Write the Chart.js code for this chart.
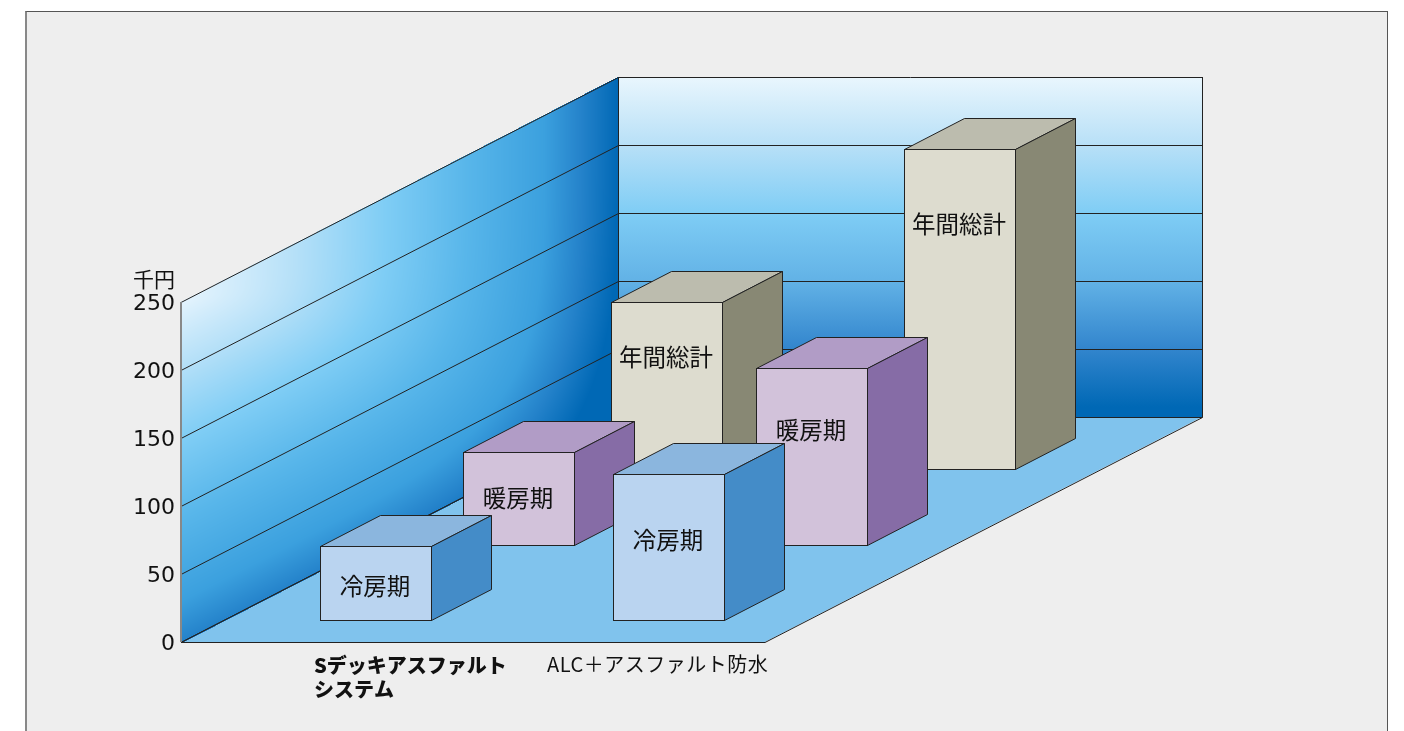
<!DOCTYPE html>
<html lang="ja">
<head>
<meta charset="utf-8">
<title>千円</title>
<script src="https://cdn.jsdelivr.net/npm/chart.js@4"></script>
<style>
  html, body { margin: 0; padding: 0; background: #fff; overflow: hidden; }
  #panel {
    position: absolute; left: 25px; top: 11px; width: 1360px; height: 800px;
    background: #eeeeee; border: 1px solid #555; border-left: 2px solid #888; box-sizing: content-box;
  }
  #chart { position: absolute; left: 0; top: 0; }
</style>
</head>
<body>
<div id="panel"></div>
<canvas id="chart" width="1404" height="731"></canvas>
<script>
const categories = ['Sデッキアスファルト', 'ALC＋アスファルト防水'];
const seriesNames = ['冷房期', '暖房期', '年間総計'];
const coolingValues = [55, 108];
const heatingValues = [69, 131];
const annualValues = [123.5, 236];
const yTicks = [0, 50, 100, 150, 200, 250];
const unitLabel = '千円';

// pseudo 3D geometry, px
const WALL_DX = 437, WALL_DY = -225;
const BAR_DX = 60, BAR_DY = -31;
const ROW_SHIFT_X = [49, 192, 340];
const ROW_SHIFT_Y = [-21, -96, -172];
const LABEL_DROP = [[40, 66], [46, 62], [55, 75]];

const FACE = [
  { front: '#bad4f0', top: '#8bb6de', side: '#448cc8' },
  { front: '#d2c2da', top: '#b19cc6', side: '#866ca6' },
  { front: '#dddccf', top: '#bcbcae', side: '#888874' },
];
const LINE = '#222';
const JP = "'Noto Sans CJK JP', sans-serif";
const BACK_STOPS = [
  [0, 0xe9, 0xf6, 0xfd],
  [0.2, 0xb8, 0xe0, 0xf7],
  [0.4, 0x7f, 0xcd, 0xf5],
  [0.6, 0x62, 0xb2, 0xe6],
  [0.8, 0x32, 0x85, 0xcd],
  [0.97, 0x00, 0x68, 0xb5],
  [1, 0x00, 0x68, 0xb5],
];
const SIDE_STOPS = [
  [0, 0xe3, 0xf3, 0xfd],
  [0.2, 0xb5, 0xe0, 0xf8],
  [0.4, 0x7f, 0xcd, 0xf5],
  [0.6, 0x58, 0xb6, 0xea],
  [0.8, 0x3b, 0xa0, 0xde],
  [0.9, 0x24, 0x82, 0xca],
  [1, 0x00, 0x68, 0xb5],
];

function sideColor(t) {
  let i = 1;
  while (i < SIDE_STOPS.length - 1 && SIDE_STOPS[i][0] < t) i++;
  const a = SIDE_STOPS[i - 1], b = SIDE_STOPS[i];
  const f = Math.min(1, Math.max(0, (t - a[0]) / (b[0] - a[0])));
  return [1, 2, 3].map(k => a[k] + (b[k] - a[k]) * f);
}

// the left wall shading fans out from its top left corner, a plain canvas gradient can't do that
function leftWallImage(wallH) {
  const w = WALL_DX + 1, h = wallH - WALL_DY + 1;
  const off = document.createElement('canvas');
  off.width = w;
  off.height = h;
  const octx = off.getContext('2d');
  const img = octx.createImageData(w, h);
  const slope = WALL_DY / WALL_DX;
  for (let py = 0; py < h; py++) {
    for (let px = 0; px < w; px++) {
      const v = py - (-WALL_DY + slope * px);
      if (v < -1 || v > wallH + 1) continue;
      const tu = Math.pow(px / WALL_DX, 1.2);
      const tv = 0.9 * Math.pow(Math.max(0, v) / wallH, 0.9);
      const t = Math.min(1, Math.pow(tu ** 5 + tv ** 5, 0.2));
      const c = sideColor(t);
      const o = (py * w + px) * 4;
      img.data[o] = c[0];
      img.data[o + 1] = c[1];
      img.data[o + 2] = c[2];
      img.data[o + 3] = 255;
    }
  }
  octx.putImageData(img, 0, 0);
  return off;
}

function poly(ctx, pts, fill, stroke) {
  ctx.beginPath();
  pts.forEach((p, i) => (i ? ctx.lineTo(p[0], p[1]) : ctx.moveTo(p[0], p[1])));
  ctx.closePath();
  if (fill) { ctx.fillStyle = fill; ctx.fill(); }
  if (stroke) { ctx.strokeStyle = stroke; ctx.lineWidth = 1; ctx.stroke(); }
}

const depthPlugin = {
  id: 'depth',
  afterDatasetsUpdate(chart) {
    chart.data.datasets.forEach((ds, i) => {
      chart.getDatasetMeta(i).data.forEach(el => {
        el.x = Math.round(el.x + ROW_SHIFT_X[i]);
        el.y = Math.round(el.y + ROW_SHIFT_Y[i]);
        el.base = Math.round(el.base + ROW_SHIFT_Y[i]);
      });
    });
  },
  beforeDatasetsDraw(chart) {
    const { ctx, chartArea: a, scales: { y } } = chart;
    const L = a.left, R = a.right - 1, T = a.top, B = a.bottom;
    const dx = WALL_DX, dy = WALL_DY;

    // floor
    poly(ctx, [[L, B], [R, B], [R + dx, B + dy], [L + dx, B + dy]], '#80c3ed');

    ctx.drawImage(leftWallImage(B - T), L, T + dy);

    // back wall
    const bg = ctx.createLinearGradient(0, T + dy, 0, B + dy);
    BACK_STOPS.forEach(s => bg.addColorStop(s[0], `rgb(${s[1]},${s[2]},${s[3]})`));
    ctx.fillStyle = bg;
    ctx.fillRect(L + dx, T + dy, R - L, B - T);

    // grid lines follow the walls
    ctx.strokeStyle = LINE;
    ctx.lineWidth = 1;
    y.ticks.forEach(t => {
      const py = Math.round(y.getPixelForValue(t.value)) + 0.5;
      ctx.beginPath();
      ctx.moveTo(L, py);
      ctx.lineTo(L + dx + 0.5, py + dy);
      ctx.lineTo(R + dx + 0.5, py + dy);
      ctx.stroke();
    });

    // outlines
    ctx.beginPath();
    ctx.moveTo(L, B + 0.5); ctx.lineTo(R, B + 0.5); ctx.lineTo(R + dx + 0.5, B + dy + 0.5); ctx.lineTo(R + dx + 0.5, T + dy);
    ctx.moveTo(L, B + 0.5); ctx.lineTo(L + dx + 0.5, B + dy + 0.5);
    ctx.moveTo(L + dx + 0.5, T + dy); ctx.lineTo(L + dx + 0.5, B + dy);
    ctx.stroke();
    ctx.strokeStyle = '#888';
    ctx.lineWidth = 2;
    ctx.beginPath();
    ctx.moveTo(L, T); ctx.lineTo(L, B);
    ctx.stroke();

    // axis texts that are not plain ticks
    ctx.fillStyle = '#111';
    ctx.textBaseline = 'middle';
    ctx.textAlign = 'right';
    ctx.font = '21px ' + JP;
    ctx.fillText(unitLabel, 175, 279);
    ctx.textAlign = 'left';
    ctx.font = '800 20px ' + JP;
    ctx.fillText(categories[0], 314, 665);
    ctx.fillText('システム', 314, 689);
    ctx.font = '20px ' + JP;
    ctx.letterSpacing = '0.5px';
    ctx.fillText(categories[1], 547, 664);
    ctx.letterSpacing = '0px';
  },
  beforeDatasetDraw(chart, args) {
    const { ctx } = chart;
    const c = FACE[args.index];
    args.meta.data.forEach(el => {
      const x0 = el.x - el.width / 2 + 0.5, x1 = el.x + el.width / 2 - 0.5;
      const top = el.y + 0.5, bottom = el.base - 0.5;
      poly(ctx, [[x0, top], [x0 + BAR_DX, top + BAR_DY], [x1 + BAR_DX, top + BAR_DY], [x1, top]], c.top, LINE);
      poly(ctx, [[x1, top], [x1 + BAR_DX, top + BAR_DY], [x1 + BAR_DX, bottom + BAR_DY], [x1, bottom]], c.side, LINE);
    });
  },
  afterDatasetDraw(chart, args) {
    const { ctx } = chart;
    ctx.fillStyle = '#111';
    ctx.font = '23.5px ' + JP;
    ctx.textAlign = 'center';
    ctx.textBaseline = 'middle';
    args.meta.data.forEach((el, j) => {
      ctx.fillText(seriesNames[args.index], el.x - 1, el.y + LABEL_DROP[args.index][j]);
    });
  },
};

const rows = [coolingValues, heatingValues, annualValues];

new Chart(document.getElementById('chart'), {
  type: 'bar',
  data: {
    labels: categories,
    datasets: rows.map((values, i) => ({
      label: seriesNames[i],
      data: values,
      backgroundColor: FACE[i].front,
      borderColor: LINE,
      borderWidth: 1,
      borderSkipped: false,
      barThickness: 112,
      grouped: false,
      inflateAmount: 0,
      clip: false,
    })),
  },
  options: {
    responsive: false,
    animation: false,
    events: [],
    layout: { padding: { left: 0, top: 302, right: 638, bottom: 89 } },
    plugins: { legend: { display: false }, tooltip: { enabled: false } },
    scales: {
      x: {
        grid: { display: false, drawTicks: false },
        border: { display: false },
        ticks: { display: false },
        afterFit(scale) { scale.height = 0; },
      },
      y: {
        min: 0,
        max: 250,
        afterBuildTicks(scale) { scale.ticks = yTicks.map(value => ({ value })); },
        afterFit(scale) { scale.width = 181; },
        grid: { display: false, drawTicks: false },
        border: { display: false },
        ticks: {
          padding: 6,
          labelOffset: 2,
          color: '#111',
          font: { family: "'DejaVu Sans'", size: 22 },
        },
      },
    },
  },
  plugins: [depthPlugin],
});
</script>
</body>
</html>
